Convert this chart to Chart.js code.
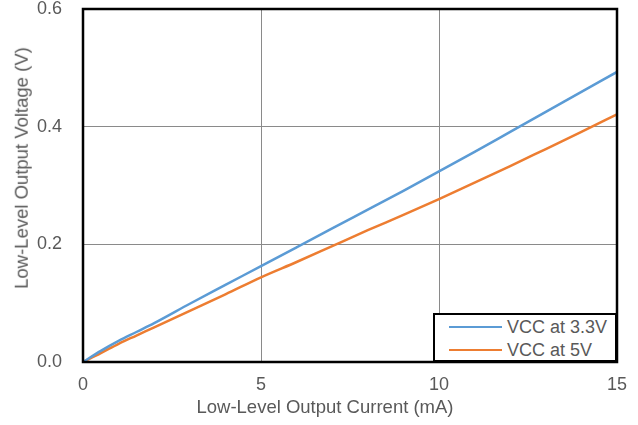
<!DOCTYPE html>
<html>
<head>
<meta charset="utf-8">
<script src="https://cdn.jsdelivr.net/npm/chart.js@4/dist/chart.umd.min.js"></script>
<style>
  html, body { margin: 0; padding: 0; background: #fff; }
  #wrap { position: relative; width: 638px; height: 425px; }
  #c { display: block; }
  #legend {
    position: absolute; left: 433px; top: 313px; width: 180px; height: 45px;
    border: 2.5px solid #000; background: #fff;
    font-family: 'Liberation Sans', Arial, sans-serif; font-size: 18px; color: #595959;
  }
  .item { position: absolute; left: 14px; height: 22px; display: flex; align-items: center; }
  .sw { width: 53px; height: 2.5px; margin-right: 5px; }
  .atitle {
    position: absolute; white-space: nowrap; line-height: 1;
    font-family: 'Liberation Sans', Arial, sans-serif; font-size: 18.5px; color: #595959;
    transform: translate(-50%, -50%);
  }
  #ytitle { transform: translate(-50%, -50%) rotate(-90deg); }
</style>
</head>
<body>
<div id="wrap">
  <canvas id="c" width="638" height="425"></canvas>
  <div id="legend"></div>
  <div id="xtitle" class="atitle" style="left:325px; top:407px;"></div>
  <div id="ytitle" class="atitle" style="left:22px; top:168px;"></div>
</div>
<script>
const currentMA = [0, 0.5, 1, 1.5, 2, 3, 4, 5, 6, 7, 8, 9, 10, 11, 12, 13, 14, 15];
const vcc33 = [0, 0.019, 0.036, 0.051, 0.066, 0.099, 0.131, 0.163, 0.195, 0.227, 0.259, 0.291, 0.324, 0.357, 0.391, 0.425, 0.459, 0.493];
const vcc5  = [0, 0.015, 0.031, 0.045, 0.059, 0.087, 0.115, 0.144, 0.170, 0.197, 0.224, 0.250, 0.277, 0.305, 0.333, 0.362, 0.391, 0.421];
const seriesLabels = ['VCC at 3.3V', 'VCC at 5V'];
const seriesColors = ['#5B9BD5', '#ED7D31'];
const xTitle = 'Low-Level Output Current (mA)';
const yTitle = 'Low-Level Output Voltage (V)';

const FONT = "'Liberation Sans', Arial, sans-serif";
const GREY = '#595959';
const FS = 18;

function pts(ys) { return currentMA.map((x, i) => ({ x: x, y: ys[i] })); }

const frame = {
  id: 'frame',
  afterDatasetsDraw(chart) {
    const a = chart.chartArea, ctx = chart.ctx;
    ctx.save();
    ctx.strokeStyle = '#000';
    ctx.lineWidth = 2.5;
    ctx.strokeRect(a.left, a.top, a.right - a.left, a.bottom - a.top);
    ctx.restore();
  }
};

const chart = new Chart(document.getElementById('c'), {
  type: 'line',
  data: {
    datasets: [
      { label: seriesLabels[0], data: pts(vcc33), borderColor: seriesColors[0], borderWidth: 2.5, pointRadius: 0, tension: 0.2, cubicInterpolationMode: 'monotone' },
      { label: seriesLabels[1], data: pts(vcc5), borderColor: seriesColors[1], borderWidth: 2.5, pointRadius: 0, tension: 0.2, cubicInterpolationMode: 'monotone' }
    ]
  },
  options: {
    responsive: false,
    animation: false,
    layout: { padding: { top: 9, right: 21, left: 0, bottom: 0 } },
    plugins: { legend: { display: false }, tooltip: { enabled: false } },
    scales: {
      x: {
        type: 'linear', min: 0, max: 15,
        ticks: { stepSize: 5, color: GREY, font: { family: FONT, size: FS }, padding: 12, maxRotation: 0 },
        grid: { color: '#8a8a8a', lineWidth: 1, drawTicks: false },
        border: { display: false },
        title: { display: false, text: xTitle },
        afterFit(s) { s.height = 63; s.paddingLeft = 0; s.paddingRight = 0; }
      },
      y: {
        type: 'linear', min: 0, max: 0.6,
        ticks: { stepSize: 0.2, color: GREY, font: { family: FONT, size: FS }, padding: 21, callback: v => v.toFixed(1) },
        grid: { color: '#8a8a8a', lineWidth: 1, drawTicks: false },
        border: { display: false },
        title: { display: false, text: yTitle },
        afterFit(s) { s.width = 83; s.paddingTop = 0; s.paddingBottom = 0; }
      }
    }
  },
  plugins: [frame]
});

document.getElementById('xtitle').textContent = xTitle;
document.getElementById('ytitle').textContent = yTitle;

const lg = document.getElementById('legend');
seriesLabels.forEach((lab, i) => {
  const d = document.createElement('div');
  d.className = 'item';
  d.style.top = (i === 0 ? 1 : 24) + 'px';
  const sw = document.createElement('span');
  sw.className = 'sw';
  sw.style.background = seriesColors[i];
  const t = document.createElement('span');
  t.textContent = lab;
  d.appendChild(sw); d.appendChild(t);
  lg.appendChild(d);
});
</script>
</body>
</html>
